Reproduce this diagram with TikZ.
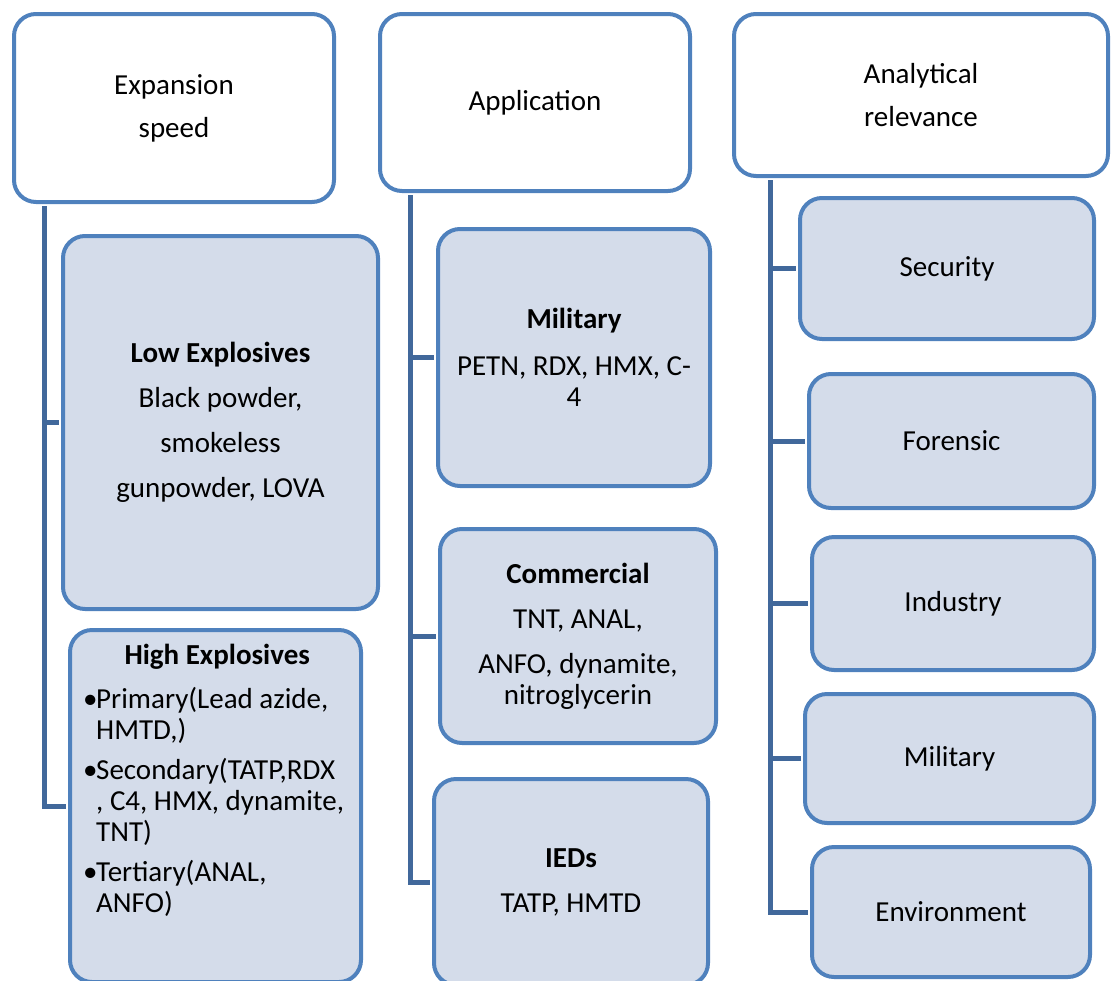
\documentclass[tikz,border=0pt]{standalone}
\usepackage{fontspec}
\setmainfont{Carlito}
\usepackage{tikz}
\usetikzlibrary{positioning}

\definecolor{boxline}{HTML}{4F81BD}
\definecolor{boxfill}{HTML}{D4DCEA}
\definecolor{linkline}{HTML}{41689B}

\tikzset{
  head/.style={draw=boxline, line width=4pt, fill=white, rounded corners=22pt,
    align=center, inner sep=0pt, font=\fontsize{29}{31}\selectfont},
  item/.style={head, fill=boxfill},
  link/.style={draw=linkline, line width=5pt, shorten <=2pt, shorten >=2pt},
}
\newcommand{\hibullet}{\makebox[13pt][l]{\textbullet}}

\begin{document}
\begin{tikzpicture}[x=1pt,y=-1pt]
  \useasboundingbox (0,0) rectangle (1111,980);

  %column 1
  \node[head, minimum width=320pt, minimum height=188pt] (speed) at (174,108) {Expansion\\[12pt]speed};
  \node[item, minimum width=315pt, minimum height=373pt] (low) at (220.5,422.5)
    {\textbf{Low Explosives}\\[14pt]Black powder,\\[14pt]smokeless\\[14pt]gunpowder, LOVA};
  \node[item, minimum width=291pt, minimum height=352pt] (high) at (215.5,806) {};
  \node[anchor=north west, align=left, inner sep=0pt,
    font=\fontsize{29}{31}\selectfont] (hightext) at ([xshift=15pt,yshift=-16pt]high.north west)
    {\makebox[268pt]{\bfseries High Explosives}\\[13pt]
     \hibullet Primary(Lead azide,\\
     \hspace*{13pt}HMTD,)\\[9pt]
     \hibullet Secondary(TATP,RDX\\
     \hspace*{13pt}, C4, HMX, dynamite,\\
     \hspace*{13pt}TNT)\\[9pt]
     \hibullet Tertiary(ANAL,\\
     \hspace*{13pt}ANFO)};

  %column 2
  \node[head, minimum width=310pt, minimum height=177pt] (app) at (535,102.5) {Application};
  \node[item, minimum width=272pt, minimum height=257pt] (mil) at (574,357.5)
    {\textbf{Military}\\[16pt]PETN, RDX, HMX, C-\\4};
  \node[item, minimum width=276pt, minimum height=214pt] (com) at (578,636)
    {\textbf{Commercial}\\[14pt]TNT, ANAL,\\[14pt]ANFO, dynamite,\\nitroglycerin};
  \node[item, minimum width=274pt, minimum height=206pt] (ied) at (571,882)
    {\textbf{IEDs}\\[14pt]TATP, HMTD};

  %column 3
  \node[head, minimum width=374pt, minimum height=162pt] (rel) at (921,95) {Analytical\\[12pt]relevance};
  \node[item, minimum width=294pt, minimum height=141pt] (sec) at (947,268.5) {Security};
  \node[item, minimum width=285pt, minimum height=134pt] (foren) at (951.5,441) {Forensic};
  \node[item, minimum width=282pt, minimum height=133pt] (ind) at (953,603.5) {Industry};
  \node[item, minimum width=289pt, minimum height=129pt] (milb) at (949.5,758.5) {Military};
  \node[item, minimum width=278pt, minimum height=130pt] (env) at (951,912) {Environment};

  %trunks
  \coordinate (t1) at ([xshift=32pt]speed.south west);
  \coordinate (t2) at ([xshift=32pt]app.south west);
  \coordinate (t3) at ([xshift=38pt]rel.south west);

  %speed>children
  \draw[link] (t1) |- (high.west);
  \draw[link] (t1 |- low.west) -- (low.west);

  %app>children
  \draw[link] (t2) |- (ied.west);
  \draw[link] (t2 |- mil.west) -- (mil.west);
  \draw[link] (t2 |- com.west) -- (com.west);

  %rel>children
  \draw[link] (t3) |- (env.west);
  \draw[link] (t3 |- sec.west) -- (sec.west);
  \draw[link] (t3 |- foren.west) -- (foren.west);
  \draw[link] (t3 |- ind.west) -- (ind.west);
  \draw[link] (t3 |- milb.west) -- (milb.west);
\end{tikzpicture}
\end{document}
